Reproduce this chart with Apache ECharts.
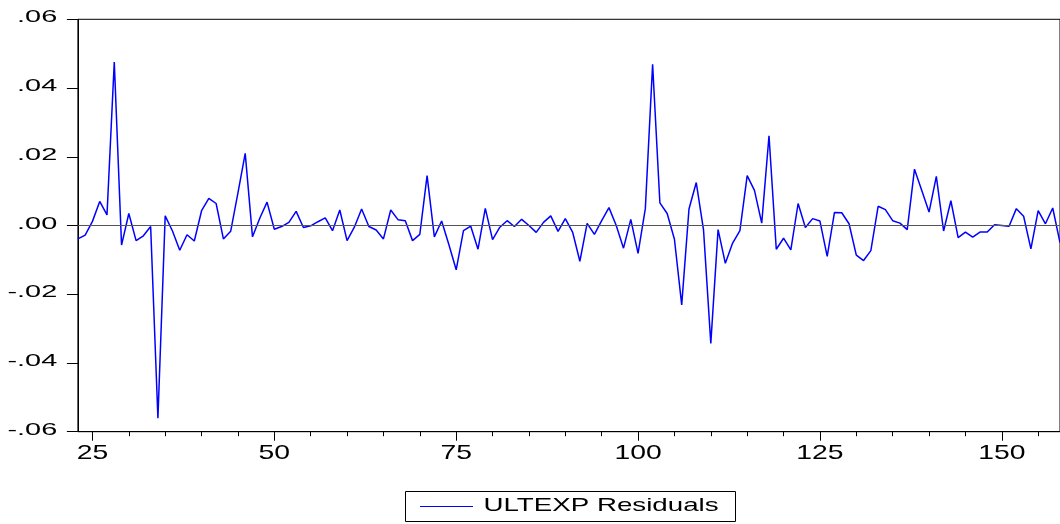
<!DOCTYPE html>
<html>
<head>
<meta charset="utf-8">
<script src="https://cdn.jsdelivr.net/npm/echarts@6/dist/echarts.min.js"></script>
<style>
html,body{margin:0;padding:0;background:#fff;}
#c{width:1060px;height:524px;}
</style>
</head>
<body>
<div id="c"></div>
<script>
// ---- data ----
const seriesName = "ULTEXP Residuals";
const obsStart = 23;
const residuals = [
  -0.0039, -0.0028, 0.0012, 0.0070, 0.0031, 0.0476, -0.0057, 0.0035, -0.0044, -0.0030,
  -0.0003, -0.0561, 0.0028, -0.0016, -0.0072, -0.0027, -0.0045, 0.0043, 0.0079, 0.0064,
  -0.0039, -0.0017, 0.0095, 0.0210, -0.0033, 0.0021, 0.0068, -0.0011, -0.0003, 0.0009,
  0.0041, -0.0006, -0.0001, 0.0011, 0.0022, -0.0015, 0.0045, -0.0044, -0.0005, 0.0048,
  -0.0003, -0.0013, -0.0039, 0.0045, 0.0017, 0.0014, -0.0044, -0.0026, 0.0145, -0.0033,
  0.0013, -0.0056, -0.0129, -0.0015, -0.0002, -0.0069, 0.0050, -0.0041, -0.0005, 0.0014,
  -0.0003, 0.0018, 0.0000, -0.0020, 0.0009, 0.0028, -0.0017, 0.0020, -0.0019, -0.0104,
  0.0006, -0.0026, 0.0014, 0.0052, 0.0000, -0.0066, 0.0018, -0.0081, 0.0049, 0.0469,
  0.0066, 0.0035, -0.0040, -0.0231, 0.0048, 0.0125, -0.0013, -0.0343, -0.0012, -0.0110,
  -0.0051, -0.0015, 0.0145, 0.0102, 0.0007, 0.0261, -0.0069, -0.0037, -0.0071, 0.0064,
  -0.0006, 0.0020, 0.0013, -0.0090, 0.0038, 0.0037, 0.0005, -0.0086, -0.0102, -0.0073,
  0.0056, 0.0046, 0.0014, 0.0007, -0.0012, 0.0164, 0.0102, 0.0039, 0.0143, -0.0016,
  0.0072, -0.0035, -0.0019, -0.0034, -0.0019, -0.0019, 0.0002, 0.0000, -0.0002, 0.0049,
  0.0027, -0.0068, 0.0043, 0.0005, 0.0051, -0.0050
];
const xMin = 23;
const xMax = 158;
const xMajorTicks = [25, 50, 75, 100, 125, 150];
const xMajorLabels = ["25", "50", "75", "100", "125", "150"];
const xMinorTicks = [30, 35, 40, 45, 55, 60, 65, 70, 80, 85, 90, 95, 105, 110, 115, 120, 130, 135, 140, 145, 155];
const yTickValues = [0.06, 0.04, 0.02, 0.00, -0.02, -0.04, -0.06];
const yTickLabels = [".06", ".04", ".02", ".00", "-.02", "-.04", "-.06"];

// ---- layout ----
const GRID_LEFT = 77.9, GRID_TOP = 19.3, GRID_W = 987.0, GRID_H = 412.4;
const FONT = "'Liberation Sans', Arial, sans-serif";

const seriesData = residuals.map((v, i) => [obsStart + i, v]);

const chart = echarts.init(document.getElementById('c'), null, {renderer: 'canvas'});

const option = {
  animation: false,
  backgroundColor: '#fff',
  grid: {
    left: GRID_LEFT, top: GRID_TOP, width: GRID_W, height: GRID_H,
    show: true, borderColor: '#000', borderWidth: 1, backgroundColor: 'transparent'
  },
  xAxis: [
    {
      type: 'value', min: xMin, max: xMax, position: 'bottom',
      axisLine: {show: true, onZero: false, lineStyle: {color: '#000', width: 1}},
      axisTick: {show: true, inside: false, length: 9, customValues: xMajorTicks, lineStyle: {color: '#000'}},
      axisLabel: {show: false},
      splitLine: {show: false}
    },
    {
      type: 'value', min: xMin, max: xMax, position: 'bottom', gridIndex: 0,
      axisLine: {show: false, onZero: false},
      axisTick: {show: true, inside: false, length: 4.5, customValues: xMinorTicks, lineStyle: {color: '#000'}},
      axisLabel: {show: false},
      splitLine: {show: false}
    }
  ],
  yAxis: {
    type: 'value', min: -0.06, max: 0.06, interval: 0.02,
    axisLine: {show: true, onZero: false, lineStyle: {color: '#000', width: 1}},
    axisTick: {show: true, inside: false, length: 11, lineStyle: {color: '#000'}},
    axisLabel: {show: false},
    splitLine: {show: false}
  },
  series: [{
    name: seriesName,
    type: 'line',
    xAxisIndex: 0,
    data: seriesData,
    showSymbol: false,
    symbol: 'none',
    lineStyle: {color: '#0000ff', width: 1.5},
    itemStyle: {color: '#0000ff'},
    markLine: {
      silent: true, symbol: ['none', 'none'], label: {show: false},
      lineStyle: {color: '#555', width: 1, type: 'solid'},
      data: [{yAxis: 0}]
    },
    z: 3
  }]
};
chart.setOption(option);

// ---- stretched text labels (positioned via the axes' scales) ----
const graphics = [];
yTickValues.forEach((v, i) => {
  const py = chart.convertToPixel({yAxisIndex: 0}, v);
  graphics.push({
    type: 'text', x: GRID_LEFT - 20.7, y: py - 1.5, scaleX: 1.75, silent: true,
    style: {text: yTickLabels[i], fontSize: 16.5, fontFamily: FONT, fill: '#000', align: 'right', verticalAlign: 'middle'}
  });
});
xMajorTicks.forEach((v, i) => {
  const px = chart.convertToPixel({xAxisIndex: 0}, v);
  graphics.push({
    type: 'text', x: px, y: GRID_TOP + GRID_H + 21.5, scaleX: 1.35, silent: true,
    style: {text: xMajorLabels[i], fontSize: 21, fontFamily: FONT, fill: '#000', align: 'center', verticalAlign: 'middle'}
  });
});
// legend box
graphics.push({
  type: 'group', silent: true,
  children: [
    {type: 'rect', shape: {x: 405.5, y: 491.5, width: 330, height: 30}, style: {fill: '#fff', stroke: '#000', lineWidth: 1}},
    {type: 'line', shape: {x1: 420, y1: 506.5, x2: 473, y2: 506.5}, style: {stroke: '#0000ff', lineWidth: 1}},
    {type: 'text', x: 483.5, y: 506, scaleX: 1.49,
     style: {text: seriesName, fontSize: 18.6, fontFamily: FONT, fill: '#000', align: 'left', verticalAlign: 'middle'}}
  ]
});
chart.setOption({graphic: graphics});
</script>
</body>
</html>
